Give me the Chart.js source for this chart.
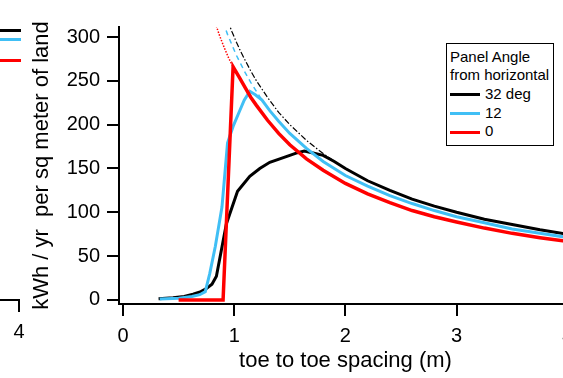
<!DOCTYPE html>
<html>
<head>
<meta charset="utf-8">
<script src="https://cdn.jsdelivr.net/npm/chart.js@4.4.1/dist/chart.umd.min.js"></script>
<style>
  body { margin: 0; background: #fff; }
  #wrap { position: relative; width: 563px; height: 378px; overflow: hidden; font-family: "Liberation Sans", Arial, sans-serif; color: #000; }
  #spacingChart { position: absolute; left: 0; top: 0; }
  .stub { position: absolute; left: 0; width: 21px; height: 3px; }
  #legendBox { position: absolute; left: 446px; top: 43px; width: 108px; height: 103px; box-sizing: border-box;
               border: 1.5px solid #000; padding: 3.5px 0 0 3px; font-size: 15px; line-height: 18.7px; background: #fff; white-space: nowrap; }
  .swatch { display: inline-block; width: 30px; height: 3px; vertical-align: middle; margin-right: 5px; }
</style>
</head>
<body>
<div id="wrap">
  <canvas id="spacingChart" width="572" height="378"></canvas>
  <!-- edge of the neighbouring panel that got cropped in -->
  <div class="stub" style="top:29px;background:#000"></div>
  <div class="stub" style="top:37.5px;background:#40bff5"></div>
  <div class="stub" style="top:59px;background:#ff0000"></div>
  <div style="position:absolute;left:0;top:299px;width:20px;height:2px;background:#000"></div>
  <div style="position:absolute;left:18px;top:299px;width:2px;height:13px;background:#000"></div>
  <div style="position:absolute;left:9px;top:320px;width:20px;text-align:center;font-size:20px">4</div>
  <div id="legendBox">
    <div>Panel Angle</div>
    <div>from horizontal</div>
    <div id="legendItems"></div>
  </div>
</div>
<script>
    // toe to toe spacing (m) vs kWh / yr per sq meter of land

    // 32 deg
    var spacing32 = [0.32, 0.45, 0.55, 0.63, 0.70, 0.75, 0.80, 0.84, 0.93, 1.03, 1.14, 1.23, 1.32, 1.41, 1.50, 1.57, 1.63, 1.70, 1.80, 1.90, 2.00, 2.20, 2.40, 2.60, 2.80, 3.00, 3.25, 3.50, 3.75, 4.04];
    var energy32 = [1.5, 2.5, 4, 6.5, 9.5, 13, 18, 27, 87, 124, 141, 150, 157, 161, 165, 168, 170, 168, 165, 158, 150, 136, 125, 115, 107, 100, 92, 86, 80, 74];

    // 12 deg
    var spacing12 = [0.33, 0.50, 0.62, 0.69, 0.74, 0.78, 0.83, 0.89, 0.94, 0.99, 1.04, 1.09, 1.14, 1.19, 1.25, 1.32, 1.40, 1.50, 1.65, 1.80, 2.00, 2.20, 2.40, 2.60, 2.80, 3.00, 3.25, 3.50, 3.75, 4.04];
    var energy12 = [1, 2, 4, 6, 9.5, 30, 61, 106, 179, 198, 213, 228, 238, 234, 228, 216, 204, 190, 173, 158, 142, 130, 119, 110, 102, 95, 88, 81, 76, 70.5];

    // 0 deg (flat)
    var spacing0 = [0.50, 0.90, 0.99, 1.05, 1.10, 1.15, 1.20, 1.30, 1.40, 1.50, 1.65, 1.80, 2.00, 2.20, 2.40, 2.60, 2.80, 3.00, 3.25, 3.50, 3.75, 4.04];
    var energy0 = [0, 0, 266, 253, 242, 231, 222, 205, 190, 177, 161, 148, 133, 121, 111, 102, 95, 89, 82, 76, 71, 66];

    // unshaded limits (broken lines)
    var limitX32 = [0.94, 0.98, 1.02, 1.06, 1.10, 1.15, 1.20, 1.30, 1.40, 1.50, 1.65, 1.80, 1.95];
    var limitY32 = [319, 306, 294, 283, 273, 261, 250, 231, 214, 200, 182, 167, 154];
    var limitX12 = [0.90, 0.94, 0.98, 1.02, 1.06, 1.10, 1.15, 1.20, 1.25];
    var limitY12 = [317, 303, 291, 279, 269, 259, 248, 238, 228];
    var limitX0 = [0.83, 0.87, 0.91, 0.95, 0.99];
    var limitY0 = [316, 301, 288, 276, 266];

    var xTicks = [0, 1, 2, 3, 4];
    var yTicks = [0, 50, 100, 150, 200, 250, 300];

    var font = '"Liberation Sans", Arial, sans-serif';
    var black = '#000000', blue = '#40bff5', red = '#ff0000';

    function points(xs, ys) {
        return xs.map(function (x, i) { return { x: x, y: ys[i] }; });
    }

    var config = {
        type: 'line',
        data: {
            datasets: [
                { label: '32 deg', data: points(spacing32, energy32), borderColor: black, borderWidth: 3, order: 3 },
                { label: '12', data: points(spacing12, energy12), borderColor: blue, borderWidth: 3, order: 2 },
                { label: '0', data: points(spacing0, energy0), borderColor: red, borderWidth: 3.5, order: 1 },
                { envelope: true, data: points(limitX32, limitY32), borderColor: black, borderWidth: 1.2, borderDash: [6, 2, 1.5, 2], order: 6 },
                { envelope: true, data: points(limitX12, limitY12), borderColor: blue, borderWidth: 1.5, borderDash: [5, 4], order: 5 },
                { envelope: true, data: points(limitX0, limitY0), borderColor: red, borderWidth: 1.5, borderDash: [1.5, 1.5], order: 4 }
            ]
        },
        options: {
            responsive: false,
            animation: false,
            layout: { padding: { left: 20, top: 27, right: 0, bottom: 0 } },
            elements: {
                point: { radius: 0 },
                line: { tension: 0, fill: false, borderJoinStyle: 'miter', borderCapStyle: 'butt' }
            },
            plugins: { legend: { display: false }, tooltip: { enabled: false } },
            scales: {
                x: {
                    type: 'linear',
                    min: -0.036,
                    max: 4.038,
                    afterBuildTicks: function (scale) {
                        scale.ticks = xTicks.map(function (v) { return { value: v }; });
                    },
                    afterFit: function (scale) {
                        scale.height = 74;
                        scale.paddingLeft = 0;
                        scale.paddingRight = 0;
                    },
                    ticks: { padding: 8, color: black, maxRotation: 0, font: { family: font, size: 20 } },
                    grid: { drawOnChartArea: false, tickLength: 12, lineWidth: 2, color: black },
                    border: { color: black, width: 2 },
                    title: {
                        display: true,
                        text: 'toe to toe spacing (m)',
                        color: black,
                        font: { family: font, size: 22 },
                        padding: { top: 0, bottom: 4 }
                    }
                },
                y: {
                    type: 'linear',
                    min: -4.6,
                    max: 311.4,
                    afterBuildTicks: function (scale) {
                        scale.ticks = yTicks.map(function (v) { return { value: v }; });
                    },
                    afterFit: function (scale) {
                        scale.width = 99;
                        scale.paddingTop = 0;
                        scale.paddingBottom = 0;
                    },
                    ticks: { padding: 7, color: black, font: { family: font, size: 20 } },
                    grid: { drawOnChartArea: false, tickLength: 12, lineWidth: 2, color: black },
                    border: { color: black, width: 2 },
                    title: {
                        display: true,
                        text: 'kWh / yr  per sq meter of land',
                        color: black,
                        font: { family: font, size: 22 },
                        padding: { top: 9, bottom: 0 }
                    }
                }
            }
        }
    };

    var ctx = document.getElementById('spacingChart').getContext('2d');
    var chart = new Chart(ctx, config);

    // legend box drawn as html, from the chart's own datasets
    var legendItems = document.getElementById('legendItems');
    chart.data.datasets.forEach(function (ds) {
        if (ds.envelope) return;
        var row = document.createElement('div');
        var swatch = document.createElement('span');
        swatch.className = 'swatch';
        swatch.style.background = ds.borderColor;
        row.appendChild(swatch);
        row.appendChild(document.createTextNode(ds.label));
        legendItems.appendChild(row);
    });
</script>
</body>
</html>
